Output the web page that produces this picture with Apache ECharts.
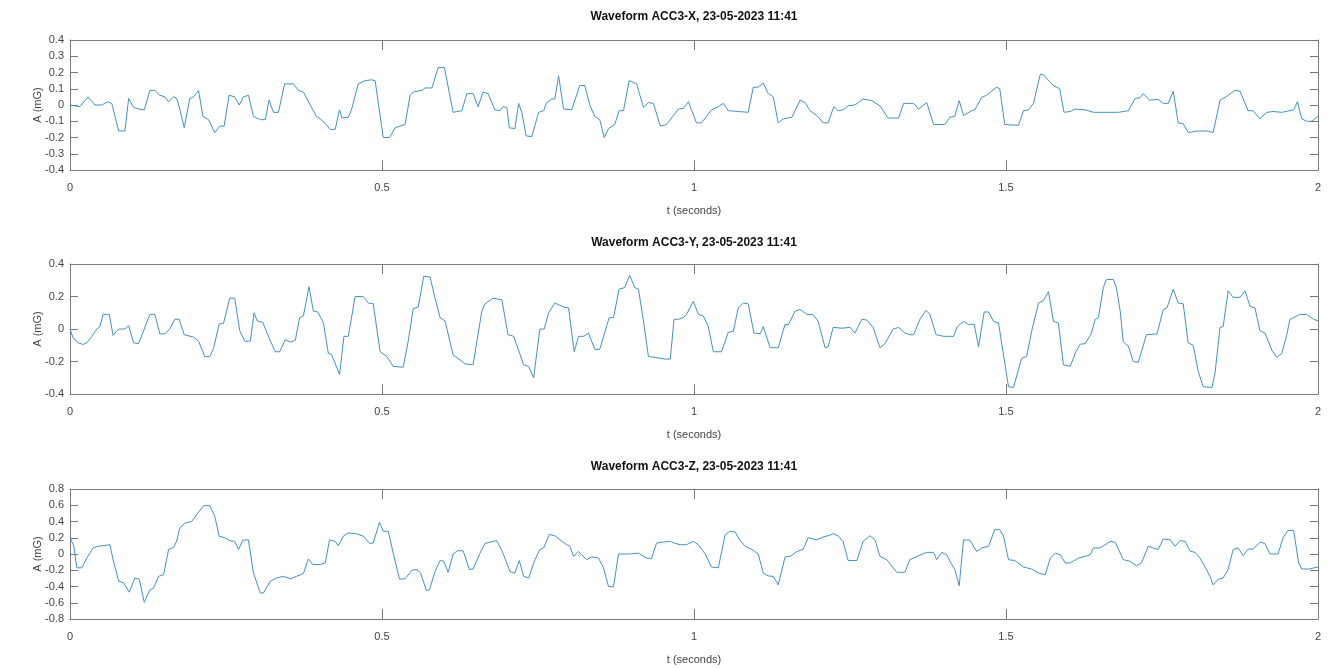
<!DOCTYPE html>
<html><head><meta charset="utf-8">
<script src="https://cdn.jsdelivr.net/npm/echarts@6/dist/echarts.min.js"></script>
<style>html,body{margin:0;padding:0;background:#fff}#c{width:1332px;height:668px}</style>
</head><body><div id="c"></div>
<script>
const titles = ['Waveform ACC3-X, 23-05-2023 11:41','Waveform ACC3-Y, 23-05-2023 11:41','Waveform ACC3-Z, 23-05-2023 11:41'];
const xLabel = 't (seconds)';
const yLabel = 'A (mG)';
const timeRange = [0, 2, 0.5];
const yRanges = [[-0.4, 0.4, 0.1], [-0.4, 0.4, 0.2], [-0.8, 0.8, 0.2]];

const accX = [[0.000,0.00],[0.003,0.00],[0.016,-0.01],[0.029,0.05],[0.040,0.00],[0.051,0.00],[0.060,0.02],[0.067,0.01],[0.078,-0.16],[0.088,-0.16],[0.094,0.04],[0.102,-0.015],[0.110,-0.025],[0.119,-0.03],[0.128,0.09],[0.136,0.09],[0.144,0.06],[0.152,0.05],[0.158,0.02],[0.166,0.05],[0.171,0.04],[0.175,-0.01],[0.183,-0.14],[0.192,0.04],[0.198,0.05],[0.206,0.09],[0.213,-0.07],[0.222,-0.09],[0.232,-0.17],[0.240,-0.13],[0.247,-0.13],[0.255,0.06],[0.264,0.05],[0.271,0.00],[0.278,0.05],[0.286,0.06],[0.294,-0.07],[0.305,-0.09],[0.313,-0.09],[0.319,0.03],[0.326,-0.045],[0.334,-0.045],[0.344,0.13],[0.358,0.13],[0.366,0.09],[0.374,0.08],[0.385,0.00],[0.395,-0.07],[0.403,-0.09],[0.417,-0.15],[0.425,-0.15],[0.432,-0.03],[0.436,-0.08],[0.446,-0.075],[0.451,-0.03],[0.462,0.13],[0.473,0.15],[0.483,0.155],[0.489,0.15],[0.502,-0.20],[0.512,-0.20],[0.521,-0.14],[0.529,-0.13],[0.537,-0.12],[0.545,0.06],[0.550,0.08],[0.564,0.09],[0.569,0.105],[0.580,0.105],[0.590,0.23],[0.600,0.23],[0.614,-0.045],[0.628,-0.035],[0.636,0.07],[0.646,0.07],[0.654,-0.01],[0.662,0.08],[0.670,0.07],[0.681,-0.03],[0.689,-0.035],[0.694,-0.01],[0.700,-0.015],[0.704,-0.14],[0.713,-0.145],[0.719,0.01],[0.724,-0.045],[0.731,-0.19],[0.740,-0.195],[0.751,-0.045],[0.759,-0.035],[0.764,0.015],[0.772,0.037],[0.777,0.037],[0.783,0.18],[0.791,-0.025],[0.804,-0.03],[0.817,0.12],[0.825,0.12],[0.833,0.00],[0.841,-0.07],[0.849,-0.09],[0.856,-0.20],[0.863,-0.145],[0.873,-0.12],[0.880,-0.035],[0.887,-0.035],[0.896,0.15],[0.908,0.13],[0.919,-0.015],[0.927,0.015],[0.935,0.01],[0.946,-0.13],[0.956,-0.12],[0.967,-0.065],[0.975,-0.025],[0.983,-0.02],[0.991,0.02],[1.004,-0.11],[1.012,-0.11],[1.028,-0.03],[1.039,-0.01],[1.047,0.01],[1.055,-0.035],[1.071,-0.04],[1.087,-0.045],[1.095,0.11],[1.103,0.11],[1.111,0.135],[1.119,0.07],[1.127,0.05],[1.135,-0.11],[1.143,-0.085],[1.157,-0.075],[1.170,0.03],[1.178,0.015],[1.186,-0.035],[1.197,-0.065],[1.207,-0.11],[1.215,-0.11],[1.224,-0.01],[1.231,-0.035],[1.239,-0.03],[1.247,-0.005],[1.258,0.00],[1.271,0.037],[1.285,0.027],[1.298,-0.005],[1.311,-0.08],[1.328,-0.08],[1.336,0.01],[1.352,0.01],[1.360,-0.025],[1.373,0.015],[1.384,-0.12],[1.402,-0.12],[1.410,-0.075],[1.418,-0.07],[1.425,0.027],[1.432,-0.065],[1.445,-0.035],[1.450,-0.03],[1.461,0.047],[1.469,0.06],[1.485,0.11],[1.490,0.10],[1.498,-0.12],[1.520,-0.125],[1.528,-0.035],[1.536,-0.03],[1.544,0.01],[1.555,0.19],[1.560,0.185],[1.576,0.12],[1.586,0.10],[1.593,-0.045],[1.603,-0.04],[1.611,-0.025],[1.627,-0.03],[1.640,-0.045],[1.680,-0.045],[1.696,-0.035],[1.707,0.04],[1.715,0.045],[1.720,0.07],[1.730,0.03],[1.744,0.035],[1.752,0.01],[1.760,0.01],[1.768,0.085],[1.776,-0.11],[1.784,-0.115],[1.792,-0.17],[1.806,-0.16],[1.824,-0.16],[1.832,-0.17],[1.843,0.03],[1.851,0.047],[1.867,0.09],[1.875,0.085],[1.888,-0.035],[1.896,-0.035],[1.907,-0.085],[1.918,-0.045],[1.928,-0.04],[1.942,-0.045],[1.961,-0.03],[1.967,0.02],[1.974,-0.085],[1.982,-0.10],[1.990,-0.10],[2.000,-0.07]];

const accY = [[0.000,0.00],[0.005,-0.055],[0.013,-0.085],[0.021,-0.095],[0.027,-0.085],[0.035,-0.045],[0.043,0.00],[0.048,0.015],[0.053,0.09],[0.063,0.09],[0.069,-0.04],[0.075,-0.01],[0.080,0.00],[0.088,0.00],[0.094,0.02],[0.102,-0.085],[0.110,-0.09],[0.118,-0.01],[0.128,0.09],[0.136,0.09],[0.144,-0.03],[0.152,-0.03],[0.160,0.00],[0.168,0.06],[0.175,0.06],[0.183,-0.035],[0.198,-0.05],[0.206,-0.075],[0.216,-0.17],[0.224,-0.17],[0.230,-0.12],[0.239,0.03],[0.246,0.035],[0.251,0.11],[0.256,0.19],[0.264,0.19],[0.272,-0.01],[0.280,-0.075],[0.289,-0.075],[0.295,0.10],[0.300,0.05],[0.309,0.04],[0.319,-0.055],[0.329,-0.14],[0.336,-0.14],[0.345,-0.065],[0.353,-0.08],[0.361,-0.07],[0.368,0.07],[0.374,0.08],[0.383,0.26],[0.390,0.11],[0.397,0.105],[0.406,0.04],[0.414,-0.15],[0.419,-0.155],[0.432,-0.28],[0.439,-0.045],[0.446,-0.045],[0.457,0.20],[0.470,0.20],[0.478,0.16],[0.486,0.155],[0.497,-0.14],[0.508,-0.17],[0.518,-0.23],[0.534,-0.235],[0.542,-0.075],[0.550,0.125],[0.558,0.135],[0.567,0.325],[0.577,0.32],[0.585,0.19],[0.593,0.07],[0.601,0.05],[0.614,-0.16],[0.625,-0.19],[0.633,-0.215],[0.646,-0.22],[0.660,0.11],[0.665,0.155],[0.678,0.19],[0.692,0.18],[0.702,-0.035],[0.711,-0.045],[0.727,-0.22],[0.735,-0.23],[0.743,-0.30],[0.753,0.00],[0.760,0.00],[0.767,0.10],[0.777,0.16],[0.791,0.135],[0.799,0.13],[0.808,-0.14],[0.815,-0.045],[0.823,-0.045],[0.831,-0.025],[0.841,-0.125],[0.849,-0.125],[0.864,0.07],[0.871,0.07],[0.880,0.245],[0.889,0.255],[0.897,0.33],[0.905,0.255],[0.911,0.245],[0.919,0.05],[0.927,-0.17],[0.938,-0.175],[0.954,-0.185],[0.962,-0.185],[0.968,0.06],[0.975,0.06],[0.983,0.07],[0.988,0.09],[0.999,0.17],[1.007,0.09],[1.015,0.08],[1.023,0.015],[1.031,-0.14],[1.044,-0.14],[1.055,-0.02],[1.063,-0.015],[1.071,0.13],[1.079,0.16],[1.087,0.155],[1.096,-0.025],[1.106,-0.03],[1.111,0.015],[1.122,-0.115],[1.135,-0.115],[1.146,0.03],[1.151,0.025],[1.162,0.11],[1.170,0.12],[1.181,0.09],[1.191,0.088],[1.199,0.047],[1.210,-0.115],[1.215,-0.11],[1.223,0.01],[1.237,0.005],[1.250,0.01],[1.258,-0.025],[1.269,0.06],[1.277,0.055],[1.287,0.01],[1.298,-0.115],[1.306,-0.09],[1.319,0.00],[1.328,0.01],[1.338,-0.025],[1.346,-0.035],[1.352,-0.035],[1.362,0.06],[1.372,0.115],[1.378,0.09],[1.388,-0.035],[1.400,-0.045],[1.416,-0.045],[1.422,0.015],[1.432,0.047],[1.440,0.027],[1.449,0.03],[1.456,-0.11],[1.465,0.105],[1.472,0.105],[1.480,0.047],[1.488,0.037],[1.496,-0.16],[1.504,-0.355],[1.512,-0.36],[1.525,-0.18],[1.533,-0.17],[1.541,-0.015],[1.549,0.11],[1.552,0.16],[1.560,0.175],[1.568,0.23],[1.576,0.047],[1.584,0.037],[1.592,-0.22],[1.603,-0.23],[1.612,-0.14],[1.619,-0.093],[1.627,-0.09],[1.637,-0.025],[1.643,0.06],[1.648,0.07],[1.656,0.255],[1.661,0.305],[1.672,0.305],[1.677,0.255],[1.683,0.11],[1.688,-0.08],[1.696,-0.105],[1.704,-0.20],[1.712,-0.205],[1.725,-0.035],[1.742,-0.03],[1.752,0.12],[1.758,0.13],[1.768,0.245],[1.776,0.16],[1.784,0.155],[1.792,-0.085],[1.800,-0.10],[1.808,-0.26],[1.816,-0.355],[1.830,-0.36],[1.835,-0.27],[1.843,0.01],[1.848,0.015],[1.856,0.235],[1.864,0.195],[1.875,0.195],[1.883,0.235],[1.891,0.14],[1.899,0.13],[1.907,-0.01],[1.915,-0.025],[1.926,-0.13],[1.934,-0.175],[1.942,-0.15],[1.950,-0.035],[1.955,0.06],[1.961,0.07],[1.971,0.09],[1.982,0.09],[1.993,0.06],[2.000,0.05]];

const accZ = [[0.000,0.20],[0.003,0.20],[0.006,0.10],[0.011,-0.17],[0.019,-0.17],[0.027,-0.05],[0.037,0.075],[0.045,0.095],[0.056,0.105],[0.064,0.115],[0.069,-0.07],[0.078,-0.335],[0.086,-0.355],[0.095,-0.47],[0.104,-0.295],[0.111,-0.31],[0.119,-0.595],[0.128,-0.44],[0.134,-0.42],[0.142,-0.275],[0.150,-0.255],[0.158,0.055],[0.166,0.08],[0.171,0.16],[0.176,0.32],[0.184,0.38],[0.195,0.40],[0.203,0.485],[0.214,0.595],[0.224,0.595],[0.232,0.465],[0.239,0.22],[0.248,0.20],[0.256,0.165],[0.264,0.155],[0.270,0.055],[0.277,0.17],[0.286,0.175],[0.294,-0.235],[0.305,-0.48],[0.310,-0.48],[0.321,-0.335],[0.331,-0.295],[0.342,-0.275],[0.353,-0.305],[0.363,-0.275],[0.374,-0.24],[0.382,-0.06],[0.389,-0.13],[0.401,-0.13],[0.409,-0.11],[0.416,0.175],[0.425,0.155],[0.430,0.10],[0.438,0.22],[0.446,0.26],[0.459,0.25],[0.470,0.22],[0.480,0.13],[0.486,0.135],[0.496,0.39],[0.502,0.28],[0.510,0.28],[0.518,0.01],[0.528,-0.31],[0.537,-0.305],[0.548,-0.20],[0.556,-0.19],[0.562,-0.235],[0.571,-0.45],[0.576,-0.44],[0.585,-0.215],[0.593,-0.08],[0.599,-0.09],[0.606,-0.225],[0.614,0.00],[0.621,0.04],[0.630,0.04],[0.640,-0.19],[0.646,-0.185],[0.657,0.01],[0.665,0.13],[0.673,0.145],[0.684,0.165],[0.694,0.01],[0.705,-0.215],[0.713,-0.235],[0.720,-0.08],[0.727,-0.275],[0.735,-0.295],[0.745,-0.07],[0.753,0.055],[0.759,0.075],[0.768,0.24],[0.777,0.225],[0.785,0.175],[0.796,0.115],[0.801,0.095],[0.807,-0.03],[0.815,0.03],[0.820,-0.01],[0.828,-0.07],[0.836,-0.035],[0.847,-0.05],[0.855,-0.17],[0.863,-0.40],[0.871,-0.405],[0.879,0.00],[0.895,0.00],[0.911,0.01],[0.924,-0.05],[0.932,-0.055],[0.940,0.135],[0.948,0.145],[0.962,0.155],[0.970,0.13],[0.978,0.115],[0.988,0.115],[0.999,0.155],[1.007,0.115],[1.018,0.00],[1.028,-0.16],[1.039,-0.17],[1.050,0.24],[1.058,0.28],[1.066,0.27],[1.073,0.175],[1.082,0.095],[1.092,0.06],[1.103,0.00],[1.111,-0.235],[1.119,-0.27],[1.127,-0.275],[1.135,-0.38],[1.146,-0.035],[1.154,-0.03],[1.165,0.03],[1.175,0.06],[1.183,0.20],[1.191,0.185],[1.197,0.175],[1.207,0.21],[1.215,0.225],[1.223,0.25],[1.231,0.225],[1.239,0.155],[1.247,-0.08],[1.261,-0.08],[1.271,0.155],[1.282,0.225],[1.290,0.175],[1.298,-0.03],[1.309,-0.07],[1.325,-0.225],[1.338,-0.225],[1.346,-0.07],[1.360,-0.02],[1.373,0.02],[1.384,0.02],[1.389,-0.07],[1.397,0.02],[1.405,-0.01],[1.413,-0.13],[1.418,-0.19],[1.425,-0.39],[1.432,0.175],[1.442,0.17],[1.453,0.03],[1.461,0.075],[1.472,0.095],[1.482,0.30],[1.490,0.30],[1.496,0.22],[1.504,-0.07],[1.514,-0.08],[1.528,-0.16],[1.541,-0.185],[1.552,-0.235],[1.563,-0.255],[1.571,-0.05],[1.579,0.01],[1.587,-0.01],[1.595,-0.11],[1.603,-0.11],[1.616,-0.05],[1.627,-0.03],[1.635,-0.01],[1.640,0.075],[1.651,0.075],[1.659,0.115],[1.667,0.155],[1.675,0.145],[1.688,-0.07],[1.699,-0.09],[1.709,-0.145],[1.717,-0.11],[1.728,0.095],[1.736,0.075],[1.744,0.055],[1.752,0.185],[1.763,0.175],[1.771,0.095],[1.779,0.165],[1.787,0.155],[1.795,0.035],[1.803,0.02],[1.811,-0.05],[1.819,-0.16],[1.827,-0.275],[1.832,-0.38],[1.840,-0.31],[1.848,-0.295],[1.856,-0.19],[1.864,0.055],[1.872,0.075],[1.880,-0.02],[1.888,0.06],[1.896,0.06],[1.907,0.145],[1.915,0.13],[1.923,0.00],[1.936,0.00],[1.944,0.20],[1.952,0.29],[1.961,0.29],[1.969,-0.11],[1.974,-0.185],[1.985,-0.185],[2.000,-0.16]];

const seriesData = [accX, accY, accZ];

const FONT = 'Liberation Sans, Arial, Helvetica, sans-serif';
const axisCol = '#7a7a7a';
const labelCol = '#444444';
const lineCol = '#4392c3';
const gridTops = [40, 264, 489];
const titleY = [17, 243, 467];
const gridH = 130, gridLeft = 70, gridRight = 14;

const grid = [], xAxis = [], yAxis = [], series = [], graphic = [];
for (let i = 0; i < 3; i++) {
  grid.push({left: gridLeft, right: gridRight, top: gridTops[i], height: gridH, containLabel: false});
  const xBase = {
    gridIndex: i, type: 'value', min: timeRange[0], max: timeRange[1], interval: timeRange[2],
    axisLine: {show: true, onZero: false, lineStyle: {color: axisCol, width: 1}},
    axisTick: {show: true, inside: true, length: 10, lineStyle: {color: axisCol}},
    splitLine: {show: false}
  };
  xAxis.push(Object.assign({}, xBase, {
    position: 'bottom',
    axisLabel: {show: true, color: labelCol, fontSize: 11, fontFamily: FONT, margin: 12},
    name: xLabel, nameLocation: 'middle', nameGap: 35, nameMoveOverlap: false,
    nameTextStyle: {color: labelCol, fontSize: 11, fontFamily: FONT}
  }));
  xAxis.push(Object.assign({}, xBase, {position: 'top', axisLabel: {show: false}}));
  const yr = yRanges[i];
  const yBase = {
    gridIndex: i, type: 'value', min: yr[0], max: yr[1], interval: yr[2],
    axisLine: {show: true, onZero: false, lineStyle: {color: axisCol, width: 1}},
    axisTick: {show: true, inside: true, length: 8, lineStyle: {color: axisCol}},
    splitLine: {show: false}
  };
  yAxis.push(Object.assign({}, yBase, {
    position: 'left',
    axisLabel: {show: true, color: labelCol, fontSize: 11, fontFamily: FONT, margin: 6},
    name: yLabel, nameLocation: 'middle', nameGap: 27, nameMoveOverlap: false,
    nameTextStyle: {color: labelCol, fontSize: 11, fontFamily: FONT}
  }));
  yAxis.push(Object.assign({}, yBase, {position: 'right', axisLabel: {show: false}}));
  series.push({
    type: 'line', xAxisIndex: 2 * i, yAxisIndex: 2 * i, data: seriesData[i],
    showSymbol: false, symbol: 'none', smooth: false,
    lineStyle: {color: lineCol, width: 1}, silent: true
  });
  graphic.push({
    type: 'text', x: gridLeft + (1332 - gridLeft - gridRight) / 2, y: titleY[i],
    style: {text: titles[i], fill: '#111', font: 'bold 12px ' + FONT, align: 'center', verticalAlign: 'middle', textAlign: 'center', textVerticalAlign: 'middle'}
  });
}

const chart = echarts.init(document.getElementById('c'), null, {renderer: 'canvas'});
chart.setOption({animation: false, backgroundColor: '#fff', grid, xAxis, yAxis, series, graphic});
</script></body></html>
